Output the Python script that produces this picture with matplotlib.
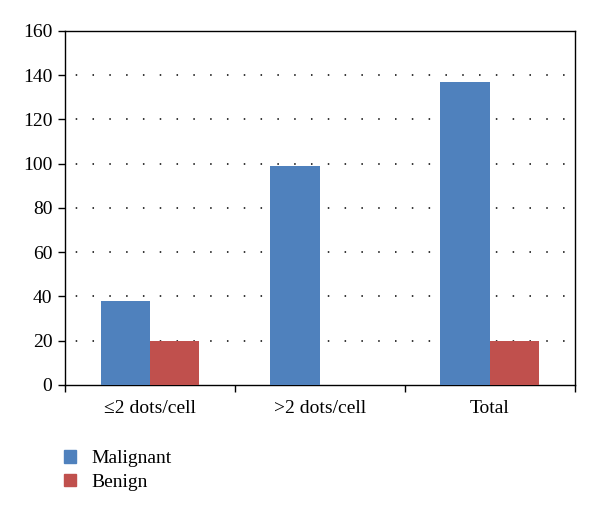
import matplotlib
matplotlib.use("Agg")
import matplotlib.pyplot as plt
import numpy as np
from matplotlib.patches import Patch

categories = ["\u22642 dots/cell", ">2 dots/cell", "Total"]
malignant = [38, 99, 137]
benign = [20, 0, 20]
yticks = [0, 20, 40, 60, 80, 100, 120, 140, 160]

plt.rcParams['font.family'] = ['Liberation Serif', 'DejaVu Serif']

fig = plt.figure(figsize=(6, 5.14), dpi=100)
ax = fig.add_axes([0.108, 0.251, 0.85, 0.689])

x = np.arange(len(categories))
w = 0.29
ax.bar(x - w/2, malignant, w, color="#4F81BD", zorder=3)
ax.bar(x + w/2, benign, w, color="#C0504D", zorder=3)

ax.set_xlim(-0.5, 2.5)
ax.set_ylim(0, 160)
ax.set_yticks(yticks)
ax.set_yticklabels([str(v) for v in yticks], fontsize=14)
for v in yticks[1:-1]:
    ax.axhline(v, color="black", linestyle=(4, (1, 10)), linewidth=1.1, zorder=1)

ax.set_xticks([-0.5, 0.5, 1.5, 2.5])
ax.set_xticklabels([])
ax.set_xticks(x, minor=True)
ax.set_xticklabels(categories, minor=True, fontsize=14)
ax.tick_params(axis='x', which='minor', length=0, pad=11)
ax.tick_params(axis='x', which='major', length=5, direction='out', width=1)
ax.tick_params(axis='y', length=5, direction='out', width=1, pad=4)
for s in ax.spines.values():
    s.set_linewidth(1.0)

handles = [Patch(color="#4F81BD", label="Malignant"), Patch(color="#C0504D", label="Benign")]
fig.legend(handles=handles, loc="upper left", bbox_to_anchor=(0.078, 0.158), frameon=False,
           fontsize=14, handlelength=0.6, handleheight=0.6, labelspacing=0.35, handletextpad=0.8)

fig.savefig("out.png", dpi=100)
